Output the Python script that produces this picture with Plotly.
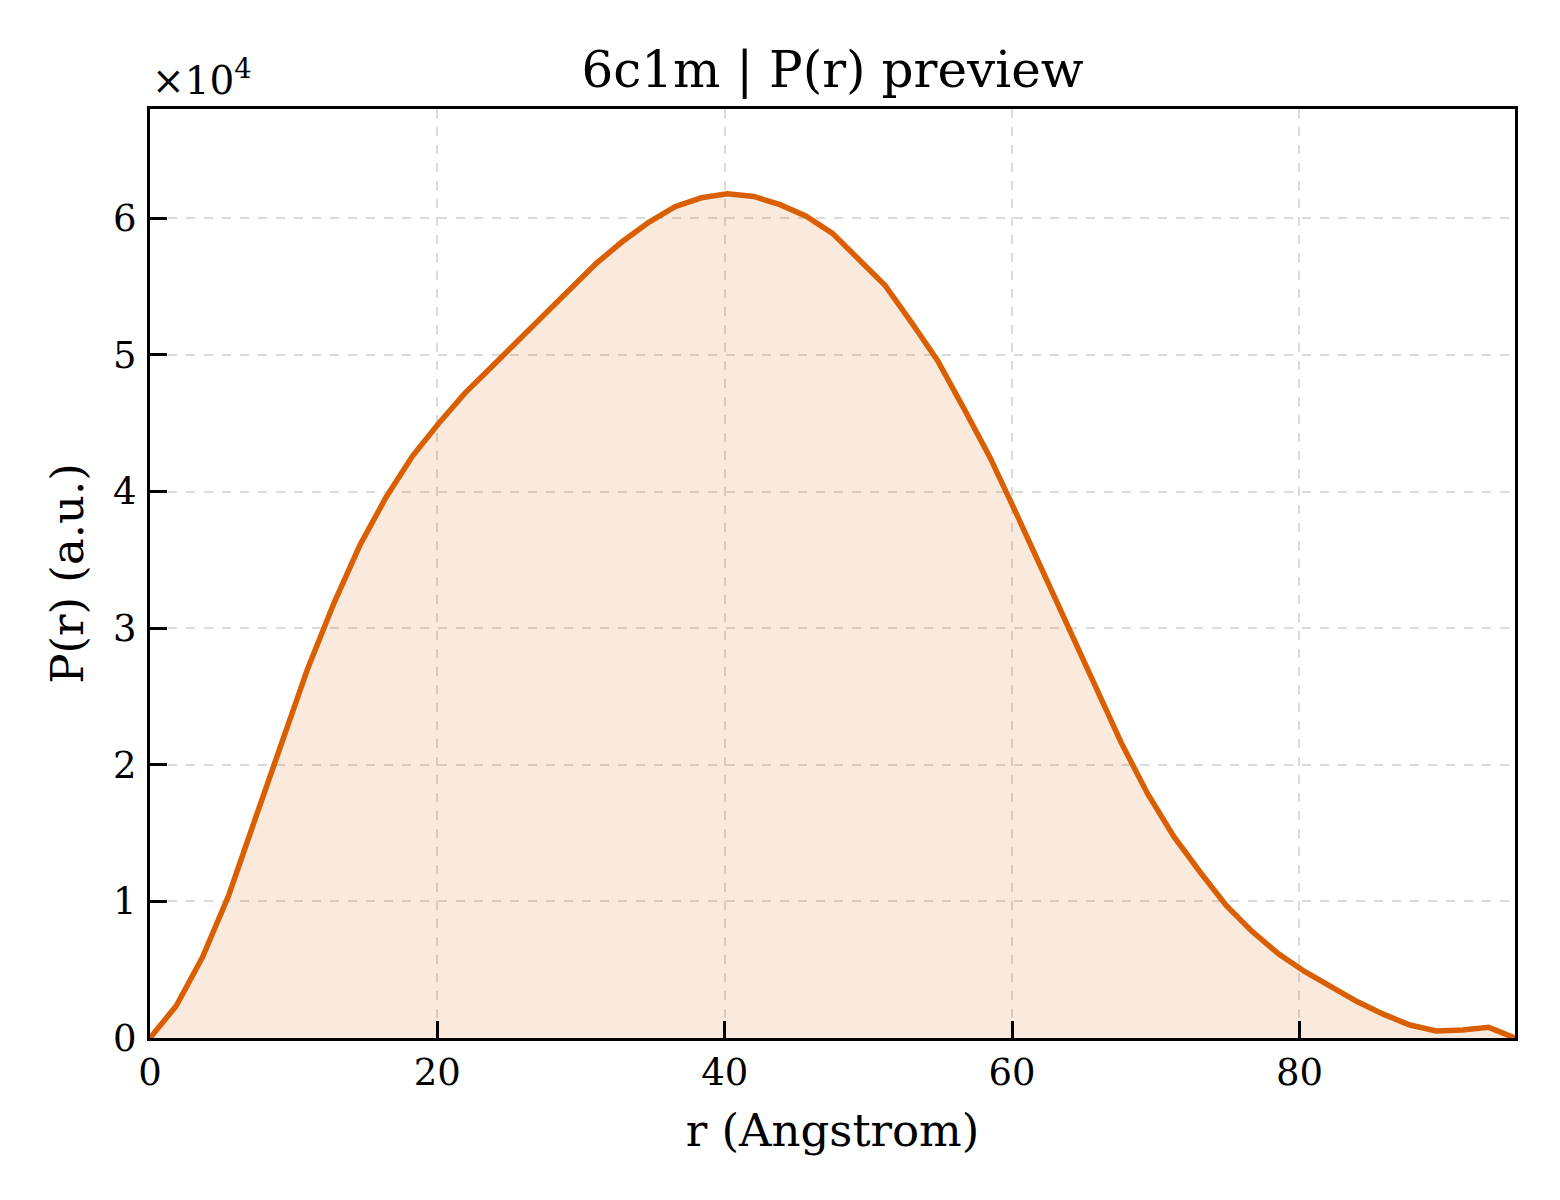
import plotly.graph_objects as go

# P(r) distance distribution preview for 6c1m
r_angstrom = [
    0.00, 1.83, 3.65, 5.48, 7.31, 9.13, 10.96, 12.79, 14.62, 16.44,
    18.27, 20.10, 21.92, 23.75, 25.58, 27.40, 29.23, 31.06, 32.88, 34.71,
    36.54, 38.37, 40.19, 42.02, 43.85, 45.67, 47.50, 49.33, 51.15, 52.98,
    54.81, 56.63, 58.46, 60.29, 62.12, 63.94, 65.77, 67.60, 69.42, 71.25,
    73.08, 74.90, 76.73, 78.56, 80.38, 82.21, 84.04, 85.87, 87.69, 89.52,
    91.35, 93.17, 95.00,
]
p_r = [
    0, 2360, 5900, 10450, 16000, 21400, 27000, 31800, 36100, 39600,
    42600, 45000, 47200, 49100, 51000, 52900, 54800, 56700, 58300, 59700,
    60850, 61500, 61800, 61600, 61000, 60150, 58900, 57000, 55100, 52400,
    49600, 46100, 42500, 38400, 34200, 29900, 25700, 21600, 17900, 14750,
    12150, 9700, 7770, 6140, 4850, 3700, 2650, 1730, 950, 510,
    580, 780, 0,
]
y_tick_vals = [0, 10000, 20000, 30000, 40000, 50000, 60000]
y_tick_text = ["0", "1", "2", "3", "4", "5", "6"]
x_tick_vals = [0, 20, 40, 60, 80]

LINE_COLOR = "#d95f02"
FONT = "DejaVu Serif"

fig = go.Figure()
fig.add_trace(
    go.Scatter(
        x=r_angstrom,
        y=p_r,
        mode="lines",
        line=dict(color=LINE_COLOR, width=5.5),
        fill="tozeroy",
        fillcolor="rgba(217,95,2,0.13)",
        showlegend=False,
    )
)

axis_common = dict(
    showline=True,
    linecolor="black",
    linewidth=3,
    mirror=True,
    ticks="inside",
    ticklen=17,
    tickwidth=3,
    tickcolor="black",
    showgrid=True,
    gridcolor="#dadada",
    gridwidth=1.5,
    griddash="dash",
    zeroline=False,
    tickfont=dict(family=FONT, size=37, color="black"),
)

# page body adds ~8px margin, so figure is a bit smaller than the window
fig.update_layout(
    width=1552,
    height=1192,
    margin=dict(l=142, r=45, t=101, b=162),
    paper_bgcolor="white",
    plot_bgcolor="white",
    font=dict(family=FONT, color="black"),
    title=dict(
        text="6c1m | P(r) preview",
        x=0.5,
        xref="paper",
        y=1 - 61 / 1192,
        yref="container",
        yanchor="middle",
        font=dict(family=FONT, size=50, color="black"),
    ),
    xaxis=dict(
        range=[0, 95],
        tickvals=x_tick_vals,
        title=dict(text="r (Angstrom)", font=dict(family=FONT, size=45, color="black"), standoff=22),
        ticklabelstandoff=0,
        **axis_common,
    ),
    yaxis=dict(
        range=[0, 68000],
        tickvals=y_tick_vals,
        ticktext=y_tick_text,
        title=dict(text="P(r) (a.u.)", font=dict(family=FONT, size=45, color="black"), standoff=16),
        ticklabelstandoff=3,
        **axis_common,
    ),
    annotations=[
        dict(
            text="×10<sup>4</sup>",
            x=0,
            xref="paper",
            xanchor="left",
            y=1,
            yref="paper",
            yanchor="bottom",
            yshift=4,
            showarrow=False,
            font=dict(family=FONT, size=39, color="black"),
        )
    ],
)

fig.write_html("out.html")
